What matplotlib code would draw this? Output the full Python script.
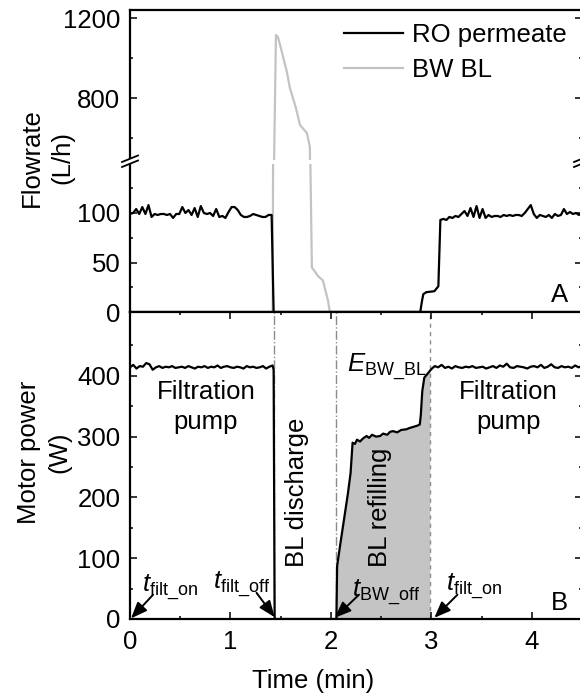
import numpy as np
import matplotlib
matplotlib.use("Agg")
import matplotlib.pyplot as plt
from matplotlib.lines import Line2D
from matplotlib.patches import Polygon

plt.rcParams['font.family'] = ['Liberation Sans', 'DejaVu Sans']
plt.rcParams['font.size'] = 18.5
plt.rcParams['mathtext.fontset'] = 'custom'
plt.rcParams['mathtext.rm'] = 'Liberation Sans'
plt.rcParams['mathtext.it'] = 'Liberation Sans:italic'

# --- Panel A: RO permeate flowrate (L/h) ---
ro_filt1_t = (0.0, 1.41)
ro_filt1_q = [99, 100, 104, 99, 106, 99, 108, 96, 99, 98, 99, 99, 98, 99, 95, 99,
              99, 106, 100, 103, 98, 105, 96, 107, 100, 99, 100, 97, 104, 96, 97, 95,
              101, 106, 106, 103, 98, 96, 96, 97, 99, 98, 97, 96, 96, 98, 98]
ro_mid_t = [1.43, 2.89, 2.905, 2.92, 2.95, 3.03, 3.07]
ro_mid_q = [0, 0, 10, 18, 20, 21, 26]
ro_filt2_t = (3.09, 4.5)
ro_filt2_q = [93, 94, 93, 96, 95, 97, 96, 99, 102, 97, 105, 96, 107, 95, 104, 95,
              98, 96, 97, 97, 96, 98, 97, 98, 97, 98, 98, 97, 100, 104, 108, 99,
              95, 98, 97, 96, 98, 95, 99, 97, 98, 104, 99, 101, 99, 100, 98, 101]

# --- Panel A: BW backwash line flowrate (L/h) ---
bw_t = [0.0, 1.42, 1.453, 1.473, 1.502, 1.532, 1.562, 1.592, 1.652, 1.692, 1.761,
        1.791, 1.796, 1.811, 1.874, 1.92, 1.97, 1.99, 4.5]
bw_q = [0, 0, 1115, 1105, 1050, 990, 930, 850, 750, 665, 625,
        555, 148, 45, 36, 32, 12, 0, 0]

# --- Panel B: motor power (W) ---
pw_filt1_t = (0.0, 1.42)
pw_filt1_p = [414, 418, 412, 416, 415, 421, 419, 410, 414, 416, 413, 415, 414, 416, 413,
              414, 415, 413, 416, 414, 412, 415, 414, 416, 413, 415, 414, 417, 413, 415,
              416, 414, 413, 415, 414, 412, 416, 414, 415, 413, 414, 416, 412, 415, 417]
pw_bw_t = [1.43, 1.44, 2.055, 2.062, 2.09, 2.14, 2.17, 2.196, 2.216, 2.24, 2.26, 2.29,
           2.32, 2.355, 2.38, 2.41, 2.45, 2.49, 2.52, 2.56, 2.59, 2.62, 2.66, 2.70,
           2.75, 2.78, 2.82, 2.86, 2.885, 2.895, 2.91, 2.93, 2.97, 2.985]
pw_bw_p = [410, 0, 0, 87, 119, 174, 207, 240, 290, 288, 295, 292,
           297, 301, 298, 303, 300, 301, 305, 303, 308, 309, 307, 311,
           312, 314, 316, 318, 320, 335, 375, 397, 405, 408]
pw_filt2_t = (3.0, 4.5)
pw_filt2_p = [411, 416, 414, 418, 413, 415, 412, 416, 414, 413, 415, 414, 416, 413, 414,
              415, 412, 414, 416, 413, 417, 415, 420, 414, 413, 416, 415, 414, 412, 415,
              416, 414, 418, 413, 415, 419, 414, 413, 416, 414, 415, 413, 417, 414, 416]

# event markers (min)
t_filt_off = 1.43
t_bw_off = 2.055
t_refill_end = 2.985

# assemble series
ro_t = np.concatenate([np.linspace(*ro_filt1_t, len(ro_filt1_q)), ro_mid_t,
                       np.linspace(*ro_filt2_t, len(ro_filt2_q))])
ro_q = np.concatenate([ro_filt1_q, ro_mid_q, ro_filt2_q])
pw_t = np.concatenate([np.linspace(*pw_filt1_t, len(pw_filt1_p)), pw_bw_t,
                       np.linspace(*pw_filt2_t, len(pw_filt2_p))])
pw_p = np.concatenate([pw_filt1_p, pw_bw_p, pw_filt2_p])

W_PX, H_PX = 580, 699


def fx(px):
	return px / W_PX


def fy(py):
	return 1 - py / H_PX


fig = plt.figure(figsize=(W_PX / 100, H_PX / 100), dpi=100)
left = fx(130)
width = fx(452)
ax_up = fig.add_axes([left, fy(160), width, (160 - 10) / H_PX])
ax_lo = fig.add_axes([left, fy(312), width, (312 - 163.5) / H_PX])
ax_b = fig.add_axes([left, fy(619), width, (619 - 312) / H_PX])

grey_line = '#c3c3c3'
for ax in (ax_up, ax_lo):
	ax.plot(bw_t, bw_q, color=grey_line, lw=1.6, zorder=2)
	ax.plot(ro_t, ro_q, color='black', lw=1.6, zorder=3)
	ax.set_xlim(0, 4.5)

ax_up.set_ylim(490, 1240)
ax_lo.set_ylim(0, 150)
ax_b.set_ylim(0, 505)
ax_b.set_xlim(0, 4.5)

# --- Panel B curve, fill and markers ---
ax_b.axvline(t_filt_off, color='0.55', lw=1, ls='-.', zorder=1)
ax_b.axvline(t_bw_off, color='0.55', lw=1, ls='-.', zorder=1)
ax_b.axvline(t_refill_end, color='0.55', lw=1, ls=(0, (3, 3)), zorder=1)
refill = (pw_t >= t_bw_off) & (pw_t <= t_refill_end)
ax_b.fill_between(pw_t[refill], 0, pw_p[refill], color='#c4c4c4', lw=0, zorder=0.5)
ax_b.plot(pw_t, pw_p, color='black', lw=1.6, zorder=3)

# --- Ticks & spines ---
for ax in (ax_up, ax_lo, ax_b):
	for s in ax.spines.values():
		s.set_linewidth(1.6)
	ax.tick_params(which='both', direction='in', left=True, right=True, width=1.1, pad=7)
	ax.tick_params(which='major', length=5)
	ax.tick_params(which='minor', length=2.5)

ax_up.spines['bottom'].set_visible(False)
ax_lo.spines['top'].set_visible(False)
for ax in (ax_up, ax_lo):
	ax.tick_params(which='both', bottom=False, top=False, labelbottom=False)
ax_up.set_yticks([800, 1200])
ax_up.set_yticks([600, 1000], minor=True)
ax_lo.set_yticks([0, 50, 100])
ax_lo.set_yticks([25, 75, 125], minor=True)

ax_b.set_xticks([0, 1, 2, 3, 4])
ax_b.set_xticks([0.5, 1.5, 2.5, 3.5, 4.5], minor=True)
ax_b.set_yticks([0, 100, 200, 300, 400])
ax_b.set_yticks([50, 150, 250, 350, 450], minor=True)
ax_b.tick_params(which='both', top=True, bottom=True)
ax_b.tick_params(axis='x', pad=8)

# --- Axis break marks ---
for cx in (130, 582):
	cy = 161.5
	p1 = [(cx - 8, cy + 0.5), (cx + 8, cy - 6.0)]
	p2 = [(cx - 8, cy + 5.5), (cx + 8, cy - 1.0)]
	quad = [p1[0], p1[1], p2[1], p2[0]]
	fig.add_artist(Polygon([(fx(x), fy(y)) for x, y in quad], closed=True,
	                       facecolor='white', edgecolor='none', zorder=10))
	for seg in (p1, p2):
		fig.add_artist(Line2D([fx(seg[0][0]), fx(seg[1][0])],
		                      [fy(seg[0][1]), fy(seg[1][1])],
		                      color='black', lw=1.3, zorder=11))

# --- Legend ---
ax_up.legend(handles=[Line2D([], [], color='black', lw=1.6),
                      Line2D([], [], color=grey_line, lw=1.6)],
             labels=['RO permeate', 'BW BL'],
             loc='upper left', bbox_to_anchor=(fx(344), fy(23)),
             bbox_transform=fig.transFigure, frameon=False, borderpad=0,
             borderaxespad=0, handlelength=2.3, handletextpad=0.35, labelspacing=0.42)

# --- Labels ---
fig.text(fx(47), fy(158), 'Flowrate\n(L/h)', rotation=90, ha='center', va='center',
         linespacing=1.35, multialignment='center')
fig.text(fx(44), fy(452), 'Motor power\n(W)', rotation=90, ha='center', va='center',
         linespacing=1.35, multialignment='center')
fig.text(fx(313), fy(681), 'Time (min)', ha='center', va='center')

ax_lo.text(4.28, 17, 'A', ha='center', va='center')
ax_b.text(4.28, 26, 'B', ha='center', va='center')

ax_b.text(0.755, 349, 'Filtration\npump', ha='center', va='center', linespacing=1.3)
ax_b.text(3.77, 349, 'Filtration\npump', ha='center', va='center', linespacing=1.3)
ax_b.text(1.66, 86, 'BL discharge', rotation=90, ha='center', va='bottom')
ax_b.text(2.49, 86, 'BL refilling', rotation=90, ha='center', va='bottom')
ax_b.text(2.156, 405, r'$E_{\mathrm{BW\_BL}}$', ha='left', va='baseline')

# --- Event time annotations ---
arrow = dict(arrowstyle='-|>,head_length=0.7,head_width=0.28', color='black', lw=1.4,
             shrinkA=0, shrinkB=0, mutation_scale=14)
ann = [
	(r'$t_{\mathrm{filt\_on}}$', (0.116, 43), (0.23, 40), (0.01, 1)),
	(r'$t_{\mathrm{filt\_off}}$', (0.826, 48), (1.26, 43), (1.44, 3)),
	(r'$t_{\mathrm{BW\_off}}$', (2.206, 35), (2.28, 40), (2.04, 2)),
	(r'$t_{\mathrm{filt\_on}}$', (3.15, 45), (3.26, 40), (3.03, 2)),
]
for label, txt_xy, start, tip in ann:
	ax_b.text(*txt_xy, label, ha='left', va='baseline')
	ax_b.annotate('', xy=tip, xytext=start, arrowprops=arrow, annotation_clip=False)

fig.savefig('out.png', dpi=100)
